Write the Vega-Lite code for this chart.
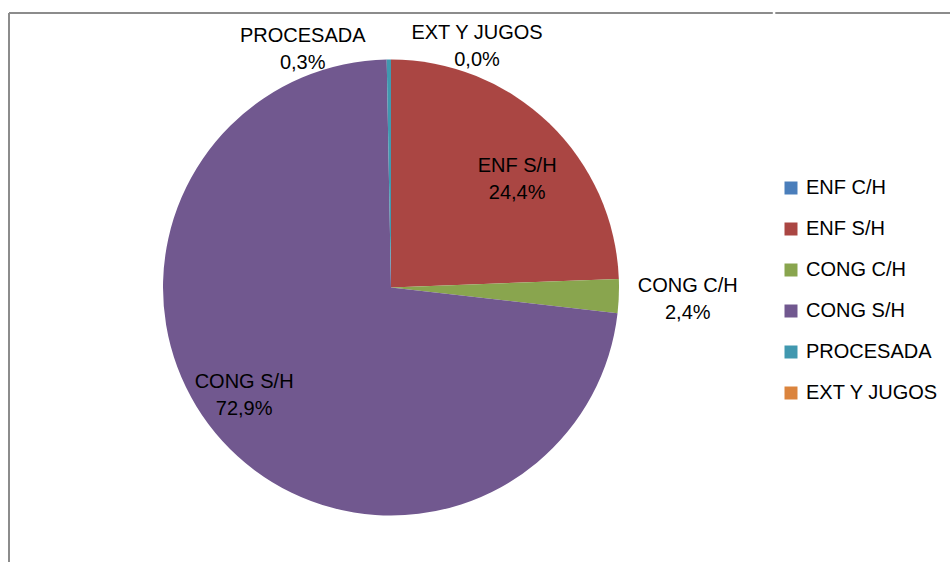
{
  "$schema": "https://vega.github.io/schema/vega-lite/v6.json",
  "autosize": {"type": "pad"},
  "padding": {"left": 8, "top": 12, "right": 0, "bottom": 0},
  "background": "white",
  "spacing": 0,
  "config": {
    "font": "Liberation Sans"
  },
  "data": {
    "values": [
      {"idx": 1, "cat": "ENF C/H", "value": 0.0, "label": ""},
      {"idx": 2, "cat": "ENF S/H", "value": 24.4, "label": "ENF S/H\n24,4%"},
      {"idx": 3, "cat": "CONG C/H", "value": 2.4, "label": "CONG C/H\n2,4%"},
      {"idx": 4, "cat": "CONG S/H", "value": 72.9, "label": "CONG S/H\n72,9%"},
      {"idx": 5, "cat": "PROCESADA", "value": 0.3, "label": "PROCESADA\n0,3%"},
      {"idx": 6, "cat": "EXT Y JUGOS", "value": 0.0, "label": "EXT Y JUGOS\n0,0%"}
    ]
  },
  "hconcat": [
    {
      "width": 764,
      "height": 549,
      "view": {"stroke": "#8c8c8c", "strokeWidth": 2, "strokeDash": [763.8, 1313.2, 549, 0]},
      "encoding": {
        "theta": {"field": "value", "type": "quantitative", "stack": true},
        "order": {"field": "idx", "type": "quantitative"}
      },
      "layer": [
        {
          "mark": {"type": "arc", "outerRadius": 228},
          "encoding": {
            "color": {
              "field": "cat",
              "type": "nominal",
              "sort": ["ENF C/H", "ENF S/H", "CONG C/H", "CONG S/H", "PROCESADA", "EXT Y JUGOS"],
              "scale": {
                "domain": ["ENF C/H", "ENF S/H", "CONG C/H", "CONG S/H", "PROCESADA", "EXT Y JUGOS"],
                "range": ["#4A7EBB", "#AA4643", "#89A54E", "#71588F", "#4198AF", "#DB843D"]
              },
              "legend": {
                "title": null,
                "orient": "none",
                "legendX": 772,
                "legendY": 165,
                "symbolType": "square",
                "symbolSize": 169,
                "symbolStrokeWidth": 0,
                "labelFontSize": 20,
                "labelFont": "Liberation Sans",
                "labelColor": "#000000",
                "labelOffset": 5,
                "rowPadding": 21,
                "padding": 0,
                "labelLimit": 250
              }
            }
          }
        },
        {
          "mark": {"type": "text", "clip": true, "radius": 166, "dx": 11, "dy": -2, "fontSize": 20, "lineBreak": "\n", "lineHeight": 27, "align": "center", "baseline": "middle", "color": "#000000"},
          "encoding": {"detail": {"field": "cat"}, "text": {"condition": {"test": "datum.cat === 'ENF S/H'", "field": "label"}, "value": ""}}
        },
        {
          "mark": {"type": "text", "clip": true, "radius": 297, "dx": 0, "dy": -13, "fontSize": 20, "lineBreak": "\n", "lineHeight": 27, "align": "center", "baseline": "middle", "color": "#000000"},
          "encoding": {"detail": {"field": "cat"}, "text": {"condition": {"test": "datum.cat === 'CONG C/H'", "field": "label"}, "value": ""}}
        },
        {
          "mark": {"type": "text", "clip": true, "radius": 181, "dx": -13, "dy": -27, "fontSize": 20, "lineBreak": "\n", "lineHeight": 27, "align": "center", "baseline": "middle", "color": "#000000"},
          "encoding": {"detail": {"field": "cat"}, "text": {"condition": {"test": "datum.cat === 'CONG S/H'", "field": "label"}, "value": ""}}
        },
        {
          "mark": {"type": "text", "clip": true, "radius": 241, "dx": -86, "dy": -11, "fontSize": 20, "lineBreak": "\n", "lineHeight": 27, "align": "center", "baseline": "middle", "color": "#000000"},
          "encoding": {"detail": {"field": "cat"}, "text": {"condition": {"test": "datum.cat === 'PROCESADA'", "field": "label"}, "value": ""}}
        },
        {
          "mark": {"type": "text", "clip": true, "radius": 242, "dx": 86, "dy": -13, "fontSize": 20, "lineBreak": "\n", "lineHeight": 27, "align": "center", "baseline": "middle", "color": "#000000"},
          "encoding": {"detail": {"field": "cat"}, "text": {"condition": {"test": "datum.cat === 'EXT Y JUGOS'", "field": "label"}, "value": ""}}
        }
      ]
    },
    {
      "width": 176,
      "height": 549,
      "view": {"stroke": "#8c8c8c", "strokeWidth": 2, "strokeDash": [0, 0.3, 175.7, 1274]},
      "mark": {"type": "text", "clip": true},
      "encoding": {"text": {"value": ""}}
    }
  ]
}
